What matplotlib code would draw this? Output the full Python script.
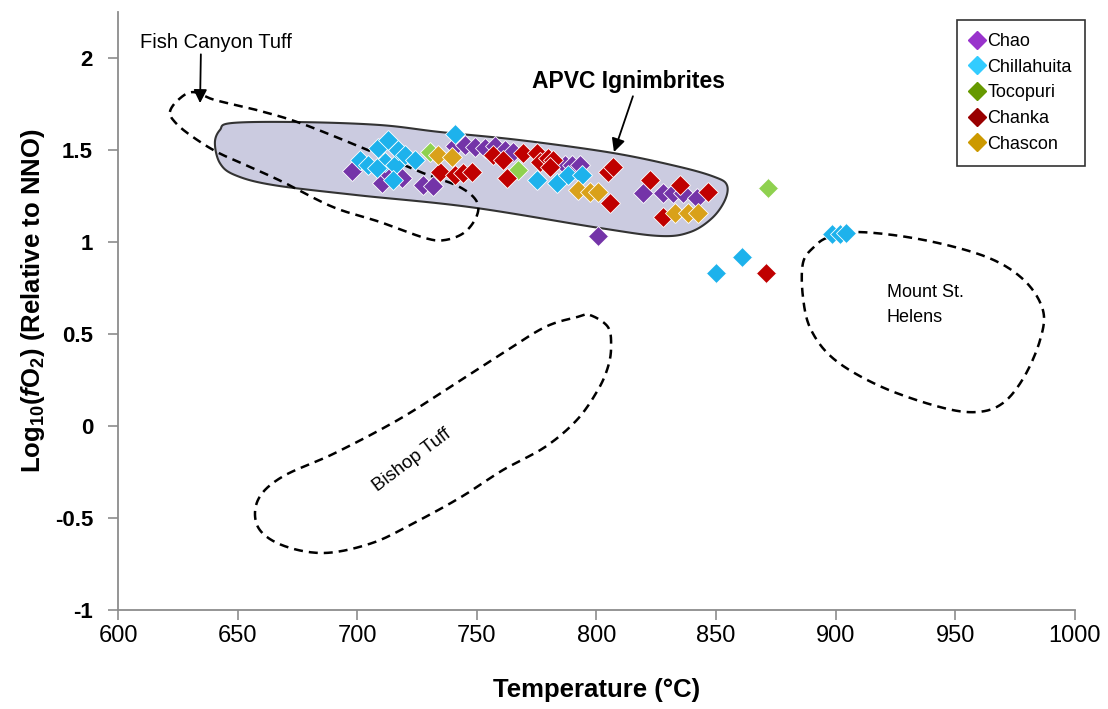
import numpy as np
import matplotlib
matplotlib.use("Agg")
import matplotlib.pyplot as plt
from matplotlib import font_manager
from matplotlib.lines import Line2D

# ---- sample data: temperature (°C) and log10 fO2 relative to NNO ----
chao_t = [697.8, 710.3, 713.7, 718.7, 727.5, 731.7,
          740.9, 745.1, 749.2, 753.4, 757.6, 761.8, 765.1,
          786.8, 789.7, 793.1, 800.6,
          819.4, 827.8, 832.0, 836.1, 842.0]
chao_y = [1.386, 1.321, 1.364, 1.348, 1.310, 1.304,
          1.522, 1.527, 1.516, 1.511, 1.522, 1.500, 1.489,
          1.418, 1.418, 1.418, 1.033,
          1.266, 1.266, 1.266, 1.266, 1.239]

chill_t = [701.2, 704.5, 708.7, 712.9, 711.6, 715.8, 717.0, 720.0, 724.1,
           708.3, 714.9, 740.9, 775.1, 783.5, 788.1, 793.9,
           849.9, 860.8, 898.4, 901.8, 904.3]
chill_y = [1.446, 1.418, 1.511, 1.554, 1.435, 1.418, 1.500, 1.473, 1.446,
           1.402, 1.337, 1.587, 1.337, 1.321, 1.364, 1.364,
           0.832, 0.918, 1.043, 1.043, 1.049]

toco_t = [730.4, 767.2, 871.7]
toco_y = [1.489, 1.391, 1.293]

chanka_t = [734.6, 740.9, 744.2, 748.0, 756.7, 760.9, 762.6, 769.3, 775.1,
            776.4, 779.7, 781.8, 780.6, 804.8, 807.0, 805.6, 822.4, 827.8,
            834.9, 846.6, 870.8]
chanka_y = [1.380, 1.364, 1.375, 1.380, 1.473, 1.446, 1.348, 1.484, 1.484,
            1.435, 1.457, 1.446, 1.408, 1.380, 1.408, 1.212, 1.337, 1.136,
            1.310, 1.272, 0.832]

chascon_t = [733.8, 739.6, 792.3, 797.3, 800.6, 832.8, 838.2, 842.4]
chascon_y = [1.473, 1.462, 1.283, 1.272, 1.272, 1.158, 1.158, 1.158]

series_names = ["Chao", "Chillahuita", "Tocopuri", "Chanka", "Chascon"]
series_colors = ["#7434A8", "#1DB2EC", "#8FD14F", "#C00000", "#D9A11A"]
legend_colors = ["#9933CC", "#33CCFF", "#669900", "#990000", "#CC9900"]

# ---- field outlines (temperature, log fO2) ----
apvc_t = [640.5, 642.6, 647.7, 676.1, 709.5, 734.6, 768.0, 806.9, 834.9,
          849.5, 854.5, 853.7, 848.3, 839.1, 826.5, 801.5, 747.1, 699.9,
          664.8, 648.9, 642.6]
apvc_y = [1.538, 1.609, 1.647, 1.652, 1.636, 1.598, 1.554, 1.484, 1.408,
          1.353, 1.310, 1.228, 1.130, 1.054, 1.033, 1.076, 1.190, 1.255,
          1.310, 1.364, 1.429]

fct_t = [621.7, 625.1, 631.3, 640.5, 658.1, 676.1, 702.4, 727.5, 742.1,
         749.6, 750.1, 745.0, 736.7, 728.3, 709.5, 689.9, 669.0, 655.2,
         641.4, 630.1, 623.8]
fct_y = [1.707, 1.772, 1.815, 1.772, 1.717, 1.647, 1.511, 1.375, 1.304,
         1.228, 1.147, 1.054, 1.011, 1.022, 1.109, 1.190, 1.326, 1.408,
         1.489, 1.582, 1.652]

bishop_t = [797.3, 804.8, 806.1, 804.8, 800.6, 791.8, 778.5, 760.9, 743.4,
            723.7, 706.2, 686.1, 668.5, 658.5, 658.5, 668.5, 690.7, 717.0,
            738.8, 760.9, 778.5, 791.8]
bishop_y = [0.603, 0.538, 0.429, 0.321, 0.196, 0.033, -0.114, -0.239, -0.386,
            -0.527, -0.636, -0.690, -0.647, -0.549, -0.402, -0.277, -0.147,
            0.033, 0.212, 0.397, 0.538, 0.592]

msh_t = [897.2, 910.5, 936.9, 963.2, 978.7, 986.6, 985.4, 978.7, 969.9,
         959.0, 943.6, 919.3, 899.7, 889.7, 886.3, 886.3, 890.9]
msh_y = [1.027, 1.054, 1.011, 0.918, 0.793, 0.630, 0.467, 0.266, 0.125,
         0.076, 0.103, 0.212, 0.359, 0.522, 0.701, 0.886, 0.973]

x_ticks = [600, 650, 700, 750, 800, 850, 900, 950, 1000]
y_ticks = [-1, -0.5, 0, 0.5, 1, 1.5, 2]
y_tick_labels = ["-1", "-0.5", "0", "0.5", "1", "1.5", "2"]


def has_font(name):
    try:
        font_manager.findfont(font_manager.FontProperties(family=name),
                              fallback_to_default=False)
        return True
    except Exception:
        return False


base = "Liberation Sans" if has_font("Liberation Sans") else "DejaVu Sans"

plt.rcParams["font.family"] = [base, "DejaVu Sans"]
plt.rcParams["mathtext.fontset"] = "custom"
plt.rcParams["mathtext.rm"] = base
plt.rcParams["mathtext.bf"] = base + ":bold"
plt.rcParams["mathtext.it"] = base + ":italic"
plt.rcParams["mathtext.bfit"] = base + ":bold:italic"


def smooth_closed(xs, ys, n=24):
    """Closed Catmull-Rom curve through the given vertices."""
    P = np.column_stack([xs, ys]).astype(float)
    m = len(P)
    t = np.linspace(0, 1, n, endpoint=False)[:, None]
    segs = []
    for i in range(m):
        p0, p1, p2, p3 = P[(i - 1) % m], P[i], P[(i + 1) % m], P[(i + 2) % m]
        segs.append(0.5 * (2 * p1 + (-p0 + p2) * t
                           + (2 * p0 - 5 * p1 + 4 * p2 - p3) * t ** 2
                           + (-p0 + 3 * p1 - 3 * p2 + p3) * t ** 3))
    out = np.vstack(segs)
    out = np.vstack([out, out[:1]])
    return out[:, 0], out[:, 1]


fig = plt.figure(figsize=(11.08, 7.09), dpi=100)
ax = fig.add_axes([0.1065, 0.1396, 0.8637, 0.8434])

# APVC field (filled)
ax_t, ax_y = smooth_closed(apvc_t, apvc_y)
ax.fill(ax_t, ax_y, facecolor="#CBCBE0", edgecolor="#333333", lw=1.5, zorder=1)

# dashed comparison fields
dash = (0, (3.6, 2.4))
for xs, ys in [(fct_t, fct_y), (bishop_t, bishop_y), (msh_t, msh_y)]:
    sx, sy = smooth_closed(xs, ys)
    ax.plot(sx, sy, color="black", lw=1.8, linestyle=dash, zorder=2)

# data points
for (xt, yv), c in zip([(chao_t, chao_y), (chill_t, chill_y), (toco_t, toco_y),
                        (chanka_t, chanka_y), (chascon_t, chascon_y)],
                       series_colors):
    ax.plot(xt, yv, linestyle="none", marker="D", ms=10, mfc=c, mec="white",
            mew=0.6, zorder=3)

# annotations
arrow = dict(arrowstyle="-|>", color="black", lw=1.3, mutation_scale=20,
             shrinkA=0, shrinkB=0)
ax.annotate("Fish Canyon Tuff", xy=(634.3, 1.755), xytext=(641, 2.087),
            ha="center", va="center", fontsize=14.5, zorder=5,
            arrowprops=dict(arrow, relpos=(0.4, 0.0)))
ax.annotate("APVC Ignimbrites", xy=(807.3, 1.489), xytext=(813.2, 1.870),
            ha="center", va="center", fontsize=16.5, fontweight="bold", zorder=5,
            arrowprops=dict(arrow, relpos=(0.53, 0.0)))
ax.text(921.4, 0.658, "Mount St.\nHelens", ha="left", va="center",
        fontsize=13, linespacing=1.55)
ax.text(722.9, -0.185, "Bishop Tuff", ha="center", va="center",
        fontsize=13.5, rotation=37, rotation_mode="anchor")

# axes styling
ax.set_xlim(600, 1000)
ax.set_ylim(-1, 2.25)
ax.set_xticks(x_ticks)
ax.set_yticks(y_ticks)
ax.set_yticklabels(y_tick_labels)
for s in ["top", "right"]:
    ax.spines[s].set_visible(False)
for s in ["left", "bottom"]:
    ax.spines[s].set_color("#8C8C8C")
    ax.spines[s].set_linewidth(1.3)
ax.tick_params(axis="both", direction="out", length=7, width=1.2,
               color="#8C8C8C")
ax.tick_params(axis="x", pad=4)
ax.tick_params(axis="y", pad=11)
for lab in ax.get_xticklabels():
    lab.set_fontsize(17)
for lab in ax.get_yticklabels():
    lab.set_fontsize(16)
    lab.set_fontweight("bold")

ax.set_xlabel("Temperature (°C)", fontsize=18.5, fontweight="bold")
ax.xaxis.set_label_coords(0.5005, -0.134)
ax.xaxis.label.set_va("center")
ax.set_ylabel(r"Log$_{\mathbf{10}}$($\mathbfit{f}$O$_{\mathbf{2}}$) (Relative to NNO)",
              fontsize=18.5, fontweight="bold")
ax.yaxis.set_label_coords(-0.089, 0.518)
ax.yaxis.label.set_va("center")

handles = [Line2D([], [], linestyle="none", marker="D", ms=9, mfc=c, mec=c)
           for c in legend_colors]
leg = fig.legend(handles, series_names, loc="upper right",
                 bbox_to_anchor=(0.979, 0.972), borderaxespad=0,
                 fontsize=13, frameon=True, fancybox=False, edgecolor="black",
                 handlelength=0.7, handletextpad=0.25, labelspacing=0.48,
                 borderpad=0.72)
leg.get_frame().set_linewidth(1.2)

fig.savefig("out.png", dpi=100)
